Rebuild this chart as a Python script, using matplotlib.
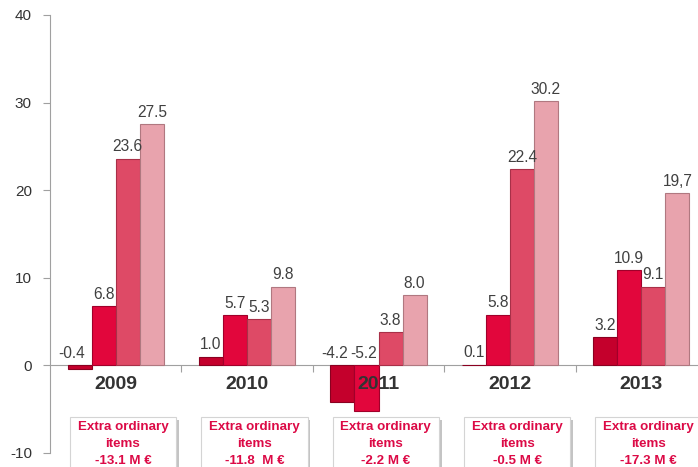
import matplotlib
matplotlib.use("Agg")
import matplotlib.pyplot as plt
from matplotlib.patches import Rectangle
import numpy as np

plt.rcParams['font.family'] = ['Liberation Sans', 'DejaVu Sans']

years = ["2009", "2010", "2011", "2012", "2013"]
series1 = [-0.4, 1.0, -4.2, 0.1, 3.2]
series2 = [6.8, 5.7, -5.2, 5.8, 10.9]
series3 = [23.6, 5.3, 3.8, 22.4, 9.0]
series4 = [27.5, 9.0, 8.0, 30.2, 19.7]
labels1 = ["-0.4", "1.0", "-4.2", "0.1", "3.2"]
labels2 = ["6.8", "5.7", "-5.2", "5.8", "10.9"]
labels3 = ["23.6", "5.3", "3.8", "22.4", "9.1"]
labels4 = ["27.5", "9.8", "8.0", "30.2", "19,7"]
extra_items = ["-13.1 M €", "-11.8  M €", "-2.2 M €", "-0.5 M €", "-17.3 M €"]
yticks = [-10, 0, 10, 20, 30, 40]

colors = ["#c4002c", "#e2063c", "#de4a66", "#e8a3ad"]
edges = ["#8a0020", "#a0002a", "#a83048", "#b07880"]

fig = plt.figure(figsize=(6.98, 4.67), dpi=100)
ax = fig.add_axes([50/698, 1-453/467, 657/698, 438/467])
ax.set_xlim(0, 5)
ax.set_ylim(-10, 40)

w = 0.183
centers = np.arange(len(years)) + 0.5
all_series = [series1, series2, series3, series4]
all_labels = [labels1, labels2, labels3, labels4]
# horizontal nudges (pixels) for labels of negative bars, as in the original
neg_dx = [-8, -3, 0, 0]
for k, (vals, labs) in enumerate(zip(all_series, all_labels)):
    xs = centers + (k - 1.5) * w
    ax.bar(xs, vals, width=w, color=colors[k], edgecolor=edges[k], linewidth=0.8, zorder=3)
    for x, v, lab in zip(xs, vals, labs):
        dx = neg_dx[k] if v < 0 else 0
        ax.annotate(lab, (x, max(v, 0)), xytext=(dx * 0.72, 3), textcoords='offset points',
                    ha='center', va='bottom', fontsize=11.2, color='#404040', zorder=5)

for c, yr in zip(centers, years):
    ax.text(c, -2.2, yr, ha='center', va='center', fontsize=14, fontweight='bold',
            color='#333333', zorder=6)

# Extra ordinary items boxes
for c, txt in zip(centers, extra_items):
    bx = c + 0.055 - 0.405
    shadow = Rectangle((bx + 0.022, -12.0 - 0.3), 0.81, 6.1, facecolor='#c4c4c4',
                       edgecolor='none', clip_on=False, zorder=1)
    box = Rectangle((bx, -12.0), 0.81, 6.1, facecolor='white', edgecolor='#d4d4d4',
                    linewidth=0.8, clip_on=False, zorder=2)
    ax.add_patch(shadow)
    ax.add_patch(box)
    ax.text(c + 0.055, -9.0, "Extra ordinary\nitems\n" + txt, ha='center', va='center',
            fontsize=9.6, fontweight='bold', color='#dc0a46', linespacing=1.55,
            zorder=4, clip_on=False)

ax.set_yticks(yticks)
ax.set_yticklabels([str(t) for t in yticks])
ax.tick_params(axis='y', direction='out', length=5, color='#a0a0a0', labelsize=11,
               labelcolor='#333333', pad=8)
ax.set_xticks([1, 2, 3, 4])
ax.set_xticklabels([])
ax.tick_params(axis='x', direction='out', length=5, color='#a0a0a0')

for s in ['top', 'right']:
    ax.spines[s].set_visible(False)
ax.spines['left'].set_color('#a0a0a0')
ax.spines['bottom'].set_position(('data', 0))
ax.spines['bottom'].set_color('#a0a0a0')
ax.spines['bottom'].set_zorder(2)

fig.savefig("out.png", dpi=100)
